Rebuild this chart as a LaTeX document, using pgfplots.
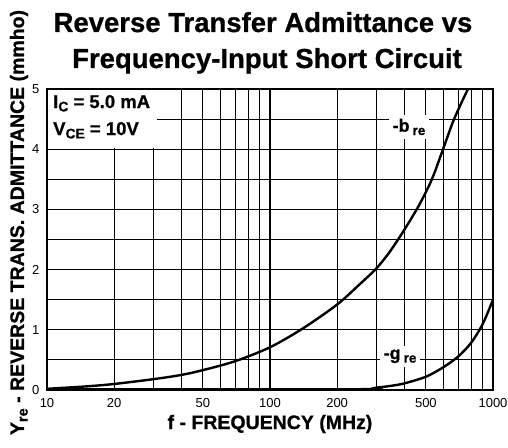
\documentclass[border=0pt]{standalone}
\usepackage{fontspec}
\setmainfont{Liberation Sans}[BoldFeatures={FakeBold=0.8}]
\usepackage{graphicx}
\usepackage{pgfplots}
\pgfplotsset{compat=1.18}
\newcommand{\sub}[1]{\raisebox{-0.35ex}{\scalebox{0.75}{#1}}}
\pgfplotstableread{
f v
10 0.02
15 0.06
20 0.10
30 0.18
40 0.25
50 0.33
70 0.48
100 0.71
140 1.02
200 1.42
253 1.76
300 2.02
345 2.30
400 2.66
466 3.07
532 3.5
597 4.0
669 4.5
772 5.0
}\bre
\pgfplotstableread{
f v
10 0.012
230 0.012
300 0.04
350 0.07
400 0.11
500 0.22
600 0.38
700 0.56
800 0.79
900 1.1
1000 1.5
}\gre
\begin{document}
\begin{tikzpicture}
\begin{axis}[
 at={(0pt,0pt)}, anchor=south west,
 scale only axis, width=446pt, height=301pt,
 xmode=log, xmin=10, xmax=1000, ymin=0, ymax=5,
 xtick={10,20,50,100,200,500,1000},
 xticklabels={10,20,50,100,200,500,1000},
 minor xtick={30,40,60,70,80,90,300,400,600,700,800,900},
 ytick={0,1,2,3,4,5},
 minor ytick={0.5,1.5,2.5,3.5,4.5},
 grid=both,
 grid style={black, line width=1.15pt},
 minor grid style={black, line width=1.15pt},
 major tick length=0pt, minor tick length=0pt,
 axis line style={line width=1.8pt},
 tick label style={font=\fontsize{13}{15}\selectfont},
 /pgf/number format/assume math mode=true,
 xticklabel style={yshift=-5pt},
 yticklabel style={xshift=-4pt},
]
\addplot[black, line width=2.4pt, smooth] table[x=f,y=v] {\bre};
\addplot[black, line width=2.4pt, smooth] table[x=f,y=v] {\gre};
\fill[white] ([xshift=1pt,yshift=-1pt]rel axis cs:0,1) rectangle ([xshift=110pt,yshift=-59pt]rel axis cs:0,1);
\node[anchor=base west, inner sep=0pt, font=\fontsize{18.5}{22}\bfseries] at ([xshift=6pt,yshift=-19pt]rel axis cs:0,1) {I\sub{C} = 5.0 mA};
\node[anchor=base west, inner sep=0pt, font=\fontsize{18.5}{22}\bfseries] at ([xshift=6pt,yshift=-46pt]rel axis cs:0,1) {V\sub{CE} = 10V};
\node[fill=white, inner sep=4pt, font=\fontsize{18}{20}\bfseries] at (axis cs:420,4.37) {-b\,\sub{re}};
\node[fill=white, inner sep=4pt, font=\fontsize{18}{20}\bfseries] at (axis cs:383,0.56) {-g\,\sub{re}};
\end{axis}
\node[anchor=base, font=\fontsize{27.5}{30}\bfseries] at (216pt,358pt) {Reverse Transfer Admittance vs};
\node[anchor=base, font=\fontsize{27.5}{30}\bfseries] at (220pt,322pt) {Frequency-Input Short Circuit};
\node[anchor=base, rotate=90, font=\fontsize{19.5}{22}\bfseries] at (-23pt,167.5pt) {Y\sub{re} - REVERSE TRANS. ADMITTANCE (mmho)};
\node[anchor=base, font=\fontsize{19.5}{22}\bfseries] at (223pt,-39pt) {f - FREQUENCY (MHz)};
\pgfresetboundingbox
\path (-47pt,-57pt) rectangle (461pt,390pt);
\end{tikzpicture}
\end{document}
